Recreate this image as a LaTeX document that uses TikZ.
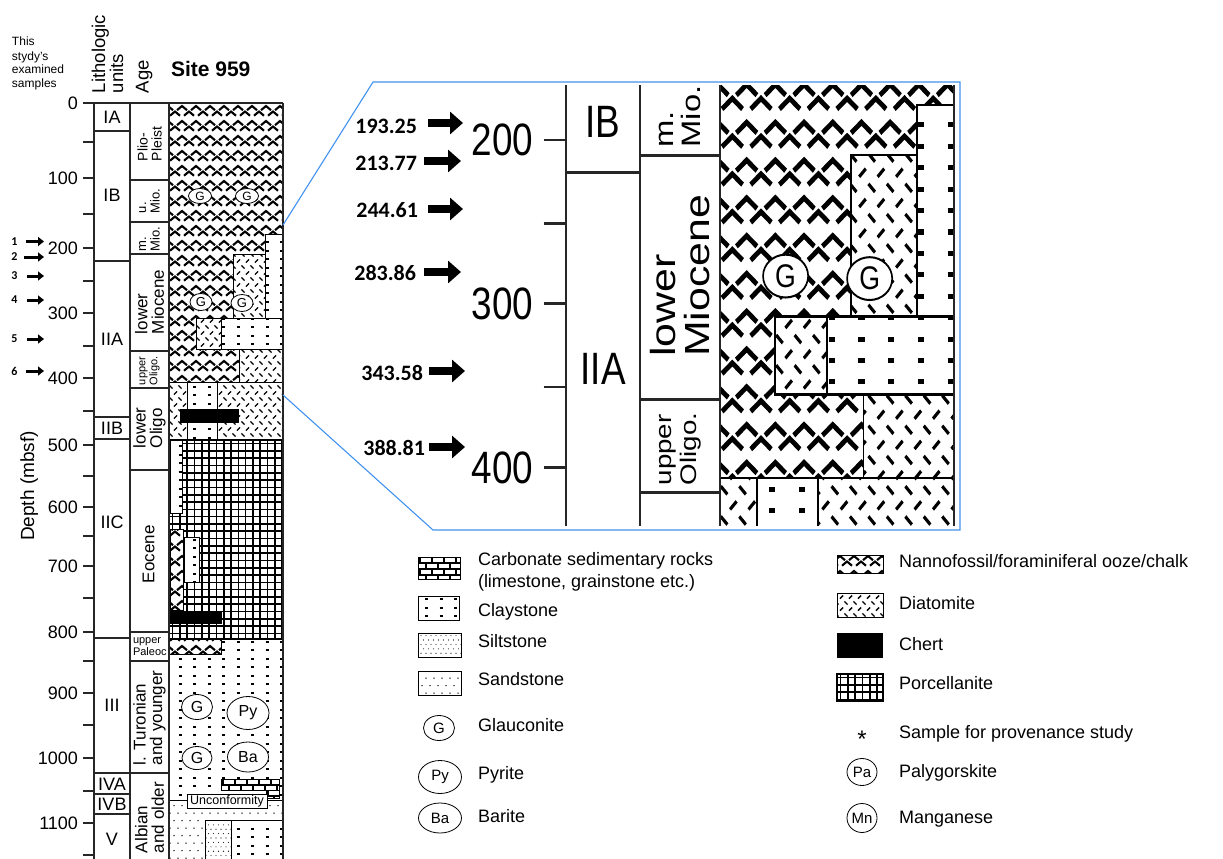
\documentclass[tikz,border=0pt]{standalone}
\usepackage{fontspec}
\setmainfont{Liberation Sans}
\newfontfamily\carl{Carlito}
\usetikzlibrary{arrows.meta,shapes.geometric}
\definecolor{bluec}{RGB}{66,146,240}
\newcommand\fz[2]{\fontsize{#1}{#2}\selectfont}

% ---------- patterns ----------
\newcommand\pnanno[4]{%
 \fill[white] (#1,#2) rectangle (#3,#4);
 \begin{scope}
 \clip (#1,#2) rectangle (#3,#4);
 \pgfmathtruncatemacro\pya{floor((#2)/15)-1}%
 \pgfmathtruncatemacro\pyb{ceil((#4)/15)}%
 \pgfmathtruncatemacro\pxa{floor((#1)/14)-1}%
 \pgfmathtruncatemacro\pxb{ceil((#3)/14)}%
 \foreach \i in {\pya,...,\pyb}{\foreach \j in {\pxa,...,\pxb}{%
  \draw[nst] ({\j*14-5},{\i*15+5.2}) -- ({\j*14},{\i*15+1}) -- ({\j*14+5},{\i*15+5.2});
  \draw[nst] ({\j*14+2},{\i*15+10.7}) -- ({\j*14+7},{\i*15+6.5}) -- ({\j*14+12},{\i*15+10.7});
 }}%
 \end{scope}}
\newcommand\pdiat[4]{%
 \fill[white] (#1,#2) rectangle (#3,#4);
 \begin{scope}
 \clip (#1,#2) rectangle (#3,#4);
 \pgfmathtruncatemacro\pya{floor((#2)/12)-1}%
 \pgfmathtruncatemacro\pyb{ceil((#4)/12)}%
 \pgfmathtruncatemacro\pxa{floor((#1)/9)-1}%
 \pgfmathtruncatemacro\pxb{ceil((#3)/9)}%
 \foreach \i in {\pya,...,\pyb}{\foreach \j in {\pxa,...,\pxb}{%
  \draw[dst] ({\j*9-1.6},{\i*12+1.4}) -- ++(3.2,3.2);
  \draw[dst] ({\j*9+2.9},{\i*12+10.6}) -- ++(3.2,-3.2);
 }}%
 \end{scope}}
\newcommand\pclay[4]{%
 \fill[white] (#1,#2) rectangle (#3,#4);
 \begin{scope}
 \clip (#1,#2) rectangle (#3,#4);
 \pgfmathtruncatemacro\pya{floor((#2)/8.5)-1}%
 \pgfmathtruncatemacro\pyb{ceil((#4)/8.5)}%
 \pgfmathtruncatemacro\pxa{floor((#1)/14.5)-1}%
 \pgfmathtruncatemacro\pxb{ceil((#3)/14.5)}%
 \foreach \i in {\pya,...,\pyb}{\foreach \j in {\pxa,...,\pxb}{%
  \draw[cst] ({\j*14.5+4.5},{\i*8.5+4}) -- ++(3,0);
 }}%
 \end{scope}}
\newcommand\psand[4]{%
 \fill[white] (#1,#2) rectangle (#3,#4);
 \begin{scope}
 \clip (#1,#2) rectangle (#3,#4);
 \pgfmathtruncatemacro\pya{floor((#2)/7.5)-1}%
 \pgfmathtruncatemacro\pyb{ceil((#4)/7.5)}%
 \pgfmathtruncatemacro\pxa{floor((#1)/8)-1}%
 \pgfmathtruncatemacro\pxb{ceil((#3)/8)}%
 \foreach \i in {\pya,...,\pyb}{\pgfmathsetmacro\off{mod(\i,2)*4}\foreach \j in {\pxa,...,\pxb}{%
  \fill ({\j*8+\off+2},{\i*7.5+3}) circle[radius=0.75pt];
 }}%
 \end{scope}}
\newcommand\psilt[4]{%
 \fill[white] (#1,#2) rectangle (#3,#4);
 \begin{scope}
 \clip (#1,#2) rectangle (#3,#4);
 \pgfmathtruncatemacro\pya{floor((#2)/4.4)-1}%
 \pgfmathtruncatemacro\pyb{ceil((#4)/4.4)}%
 \pgfmathtruncatemacro\pxa{floor((#1)/5)-1}%
 \pgfmathtruncatemacro\pxb{ceil((#3)/5)}%
 \foreach \i in {\pya,...,\pyb}{\pgfmathsetmacro\off{mod(\i,2)*2.5}\foreach \j in {\pxa,...,\pxb}{%
  \fill ({\j*5+\off+1},{\i*4.4+2}) circle[radius=0.55pt];
 }}%
 \end{scope}}
\newcommand\pporc[4]{%
 \fill[white] (#1,#2) rectangle (#3,#4);
 \begin{scope}
 \clip (#1,#2) rectangle (#3,#4);
 \foreach \k in {0,...,30}{\draw[pst] ({#1+3.6+\k*7.3},#2) -- ({#1+3.6+\k*7.3},#4);}
 \foreach \k in {0,...,40}{\draw[pst] (#1,{#2+3.6+\k*7.3}) -- (#3,{#2+3.6+\k*7.3});}
 \end{scope}}
\newcommand\pcarb[4]{%
 \fill[white] (#1,#2) rectangle (#3,#4);
 \begin{scope}
 \clip (#1,#2) rectangle (#3,#4);
 \foreach \k in {0,...,6}{\draw[kst] (#1,{#2+\k*6}) -- (#3,{#2+\k*6});}
 \foreach \k in {0,...,5}{\pgfmathsetmacro\off{mod(\k,2)*6}%
   \foreach \m in {0,...,10}{\draw[kst] ({#1+\off+\m*12+2},{#2+\k*6}) -- ++(0,6);}}
 \end{scope}}

% ---------- graphics of the column (drawn twice: original and magnified) ----------
\newcommand\colgfx{%
 \pnanno{169}{103}{283}{254}
 \pclay{265}{234}{283}{318}
 \pdiat{233}{254}{265}{318}
 \pnanno{169}{254}{233}{318}
 \pnanno{169}{318}{196}{349}
 \pdiat{196}{318}{221}{349}
 \pclay{221}{318}{283}{349}
 \pnanno{169}{349}{239}{382}
 \pdiat{239}{349}{283}{382}
 \pdiat{169}{382}{187}{440}
 \pclay{187}{382}{217}{440}
 \pdiat{217}{382}{283}{440}
 \fill (180,409) rectangle (239,423);
 \pporc{169}{440}{283}{639}
 \pclay{170}{440}{182}{513}
 \pnanno{170}{529}{183}{610}
 \pclay{184}{537}{199}{582}
 \fill (169,611) rectangle (222,624);
 \pclay{169}{639}{283}{800}
 \pnanno{169}{639}{221}{654}
 \pcarb{221}{779}{279}{790}
 \pcarb{266}{790}{279}{798}
 \psand{169}{800}{283}{820}
 \psand{169}{820}{205}{859}
 \psilt{205}{820}{231}{859}
 \pclay{231}{820}{283}{859}
 \draw[bx] (265,234) rectangle (283,318);
 \draw[bx] (233,254) rectangle (265,318);
 \draw[bx] (196,318) rectangle (221,349);
 \draw[bx] (221,318) rectangle (283,349);
 \draw[bx] (239,349) rectangle (283,382);
 \draw[bx] (169,382) -- (283,382);
 \draw[bx] (187,382) -- (187,440) (217,382) -- (217,440);
 \draw[line width=2pt] (169,440) rectangle (283,639);
 \draw[bx] (170,440) rectangle (182,513);
 \draw[bx] (170,529) rectangle (183,610);
 \draw[bx] (184,537) rectangle (199,582);
 \draw[bx] (169,639) rectangle (221,654);
 \draw[bx] (221,779) -- (279,779) -- (279,798) -- (266,798) -- (266,790) -- (221,790) -- cycle;
 \draw[bx] (169,800) -- (283,800) (205,820) -- (283,820) (205,820) -- (205,859) (231,820) -- (231,859);
 \draw[frm] (83,103) -- (283,103);
 \draw[frm] (94,103) -- (94,859) (130,103) -- (130,859) (169,103) -- (169,859) (283,103) -- (283,859);
 \foreach \yy in {131,261,417,439,638,773,794,814} \draw[frm] (94,\yy) -- (130,\yy);
 \foreach \yy in {180,222,254,351,388,470,632,661,773} \draw[frm] (130,\yy) -- (169,\yy);
 \foreach \yy in {103,142,178,214,248,281,313,346,378,411,445,476,507,536,566,598,632,661,693,725,758,791,823,855}
   \draw[frm] (83,\yy) -- (94,\yy);
}

\begin{document}
\begin{tikzpicture}[x=1pt,y=-1pt,
  every node/.style={inner sep=0pt, outer sep=0pt},
  frm/.style={line width=1.1pt, draw=black!85},
  bx/.style={line width=0.9pt, draw=black},
  nst/.style={line width=2.1pt, line join=miter},
  dst/.style={line width=1.4pt},
  cst/.style={line width=2pt},
  pst/.style={line width=1.6pt},
  kst/.style={line width=2.4pt},
  ell/.style={draw, fill=white, ellipse, line width=0.8pt, inner sep=0pt},
  arrS/.style={line width=3pt, -{Triangle[length=6pt,width=9pt]}},
  arrB/.style={line width=8pt, -{Triangle[length=13pt,width=22pt]}},
  blu/.style={draw=bluec, line width=1.1pt},
  lg/.style={anchor=base west, font=\fz{18}{18}},
  dl/.style={anchor=east, font=\fz{18}{18}},
  ul/.style={font=\fz{18}{18}},
  rl/.style={rotate=90, anchor=west, align=left},
]
\fill[white] (0,0) rectangle (1223,859);
\useasboundingbox (0,0) rectangle (1223,859);

% header
\node[anchor=base west, font=\fz{12}{12}] (h1) at (12,46) {This};
\node[anchor=base west, font=\fz{12}{12}] (h2) at (12,60) {stydy's};
\node[anchor=base west, font=\fz{12}{12}] (h3) at (12,74) {examined};
\node[anchor=base west, font=\fz{12}{12}] (h4) at (12,88) {samples};
\node[rotate=90, anchor=base west, font=\fz{18.5}{18.5}] (h5) at (105,93) {Lithologic};
\node[rotate=90, anchor=base west, font=\fz{18.5}{18.5}] (h6) at (123,93) {units};
\node[rotate=90, anchor=base west, font=\fz{18.5}{18.5}] (h7) at (148.5,93) {Age};
\node[anchor=base west, font=\fz{21}{21}\bfseries] (h8) at (171,77) {Site 959};
\node[rotate=90, anchor=base, font=\fz{19}{19}] (h9) at (34,486) {Depth (mbsf)};

% ---------------- main column ----------------
\colgfx
\foreach \v/\yy in {0/103,100/178,200/248,300/313,400/378,500/445,600/507,700/566,800/632,900/693,1000/758,1100/823}
  \node[dl] (d\v) at (78,\yy) {\v};
\node[ell, minimum width=23, minimum height=15, font=\fz{12}{12}] (ga) at (200,196) {G};
\node[ell, minimum width=23, minimum height=15, font=\fz{12}{12}] (gb) at (247,196) {G};
\node[ell, minimum width=22, minimum height=17, font=\fz{13}{13}] (gc) at (201,302) {G};
\node[ell, minimum width=22, minimum height=17, font=\fz{13}{13}] (gd) at (242,303) {G};
\node[ell, minimum width=31, minimum height=25, font=\fz{16}{16}] (ge) at (197,707) {G};
\node[ell, minimum width=42, minimum height=33, font=\fz{16}{16}] (py) at (248,713) {Py};
\node[ell, minimum width=30, minimum height=23, font=\fz{16}{16}] (gf) at (197,758) {G};
\node[ell, minimum width=41, minimum height=30, font=\fz{16}{16}] (ba) at (248,757) {Ba};
\node[draw, fill=white, line width=0.8pt, minimum width=80, minimum height=14, font=\fz{12.5}{13}] (unc) at (227,801) {Unconformity};
\node[ul] (ua) at (112,117) {IA};
\node[ul] (ub) at (112,195) {IB};
\node[ul] (uc) at (112,339) {IIA};
\node[ul] (ud) at (112,428) {IIB};
\node[ul] (ue) at (112,522) {IIC};
\node[ul] (uf) at (112,705) {III};
\node[ul] (ug) at (112,784) {IVA};
\node[ul] (uh) at (112,804) {IVB};
\node[ul] (ui) at (112,839) {V};
\node[rl, font=\fz{14}{14}] (aa) at (149.5,161) {Plio-\\Pleist};
\node[rl, font=\fz{13}{13.5}] (ab) at (149.5,213) {u.\\Mio.};
\node[rl, font=\fz{13}{13.5}] (ac) at (149.5,251) {m.\\Mio.};
\node[rl, font=\fz{17}{16.5}] (ad) at (149.5,334) {lower\\Miocene};
\node[rl, font=\fz{11}{12}] (ae) at (149.5,385) {upper\\Oligo.};
\node[rl, font=\fz{17}{16.5}] (af) at (149.5,448) {lower\\Oligo};
\node[rotate=90, anchor=west, font=\fz{17}{17}] (ag) at (148.5,583) {Eocene};
\node[anchor=base west, font=\fz{11}{11}] (ah) at (133,643) {upper};
\node[anchor=base west, font=\fz{11}{11}] (ai) at (133,655) {Paleoc};
\node[rl, font=\fz{17}{16.5}] (aj) at (149.5,765) {l. Turonian\\and younger};
\node[rl, font=\fz{17}{16.5}] (ak) at (149.5,853) {Albian\\and older};

% sample arrows (left)
\foreach \n/\yy/\xa in {1/241.5/26,2/257/24,3/276/27,4/300/27,5/339/27,6/371/26}{
  \node[font=\carl\bfseries\fz{12}{12}] (s\n) at (14.5,\yy) {\n};
  \coordinate (sa\n) at (\xa,\yy);
  \coordinate (sb\n) at (44,\yy);
  \draw[arrS] (sa\n) -- (sb\n);
}

% ---------------- magnified inset ----------------
\begin{scope}[transform canvas={xshift=373.55pt,yshift=484.96pt,xscale=2.05,yscale=2.52}]
  \clip (40,226.2) rectangle (284,400.8);
  \colgfx
  \node[dl] (z200) at (78,248) {200};
  \node[dl] (z300) at (78,313) {300};
  \node[dl] (z400) at (78,378) {400};
  \node[ell, minimum width=22, minimum height=17, font=\fz{13}{13}] (zgc) at (201,302) {G};
  \node[ell, minimum width=22, minimum height=17, font=\fz{13}{13}] (zgd) at (242,303) {G};
  \node[ul] (zub) at (112,240.9) {IB};
  \node[ul] (zuc) at (112,339) {IIA};
  \node[rl, font=\fz{13}{13.5}] (zac) at (149.5,251) {m.\\Mio.};
  \node[rl, font=\fz{17}{16.5}] (zad) at (149.5,334) {lower\\Miocene};
  \node[rl, font=\fz{11}{12}] (zae) at (149.5,385) {upper\\Oligo.};
\end{scope}

% inset sample depths
\foreach \n/\t/\yy/\xr/\ay/\xa/\xb in {1/193.25/126/417/123/428/463, 2/213.77/163/417/161/424/461, 3/244.61/210/418/209/428/463, 4/283.86/273/416/272/424/461, 5/343.58/373/423/371/429/465, 6/388.81/448/425/447/429/465}{
  \node[anchor=east, font=\carl\bfseries\fz{22}{22}] (v\n) at (\xr,\yy) {\t};
  \coordinate (va\n) at (\xa,\ay);
  \coordinate (vb\n) at (\xb,\ay);
  \draw[arrB] (va\n) -- (vb\n);
}

% blue frame
\coordinate (c1) at (283,225);
\coordinate (c2) at (373,82);
\coordinate (c3) at (960,82);
\coordinate (c4) at (960,530);
\coordinate (c5) at (433,530);
\coordinate (c6) at (283,395);
\draw[blu] (c1) -- (c2) -- (c3) -- (c4) -- (c5) -- (c6);

% legend left
\pcarb{418}{557}{460}{579}\draw[bx] (418,557) rectangle (460,579);
\pclay{418}{596}{459}{620}\draw[bx] (418,596) rectangle (459,620);
\psilt{418}{633}{461}{657}\draw[bx] (418,633) rectangle (461,657);
\psand{418}{671}{461}{695}\draw[bx] (418,671) rectangle (461,695);
\node[ell, minimum width=31, minimum height=25, font=\fz{15}{15}] (lg1) at (439,728) {G};
\node[ell, minimum width=43, minimum height=33, font=\fz{15}{15}] (lg2) at (440,777) {Py};
\node[ell, minimum width=43, minimum height=30, font=\fz{15}{15}] (lg3) at (440,818) {Ba};
\node[lg] (t1) at (478,565) {Carbonate sedimentary rocks};
\node[lg] (t2) at (478,587) {(limestone, grainstone etc.)};
\node[lg] (t3) at (478,616) {Claystone};
\node[lg] (t4) at (478,647) {Siltstone};
\node[lg] (t5) at (478,685) {Sandstone};
\node[lg] (t6) at (478,731) {Glauconite};
\node[lg] (t7) at (478,779) {Pyrite};
\node[lg] (t8) at (478,822) {Barite};

% legend right
\pnanno{837}{555}{883}{573}\draw[bx] (837,555) rectangle (883,573);
\pdiat{837}{593}{883}{617}\draw[bx] (837,593) rectangle (883,617);
\fill (837,633) rectangle (883,658);
\pporc{837}{674}{883}{701}\draw[line width=1.5pt] (837,674) rectangle (883,701);
\node[anchor=base, font=\fz{24}{24}] (st) at (862,747) {*};
\node[ell, minimum width=30, minimum height=27, font=\fz{15}{15}] (lpa) at (862,772) {Pa};
\node[ell, minimum width=30, minimum height=29, font=\fz{15}{15}] (lmn) at (862,818) {Mn};
\node[lg] (r1) at (899,567) {Nannofossil/foraminiferal ooze/chalk};
\node[lg] (r2) at (899,609) {Diatomite};
\node[lg] (r3) at (899,650) {Chert};
\node[lg] (r4) at (899,689) {Porcellanite};
\node[lg] (r5) at (899,738) {Sample for provenance study};
\node[lg] (r6) at (899,777) {Palygorskite};
\node[lg] (r7) at (899,823) {Manganese};
\end{tikzpicture}
\end{document}
